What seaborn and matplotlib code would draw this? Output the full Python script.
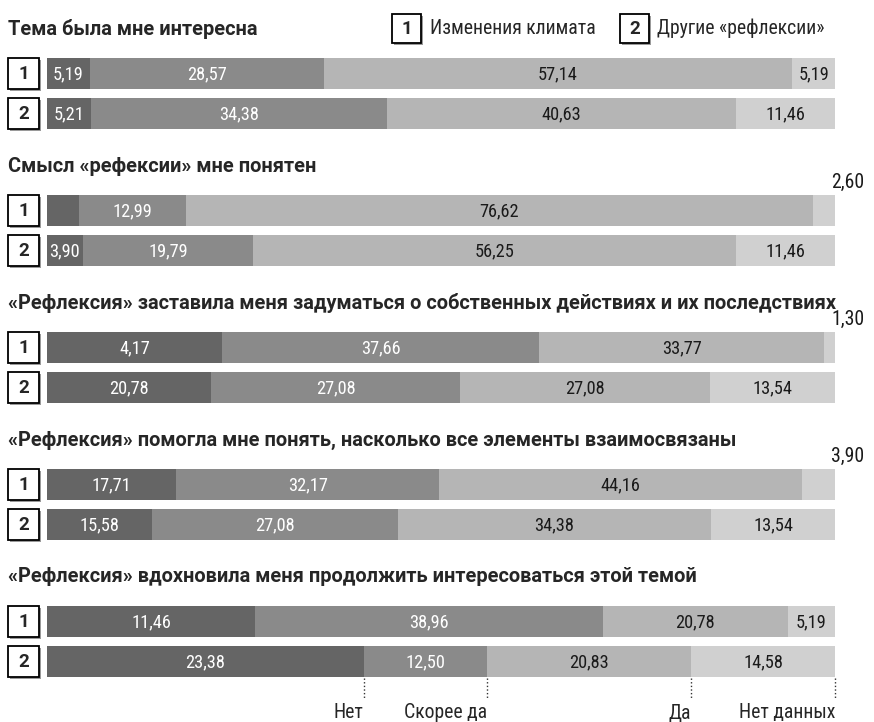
import numpy as np
import pandas as pd
import matplotlib
matplotlib.use("Agg")
import matplotlib.pyplot as plt
import seaborn as sns
from matplotlib.patches import Rectangle

sns.set_style("white")
plt.rcParams['font.family'] = ['Roboto Condensed', 'Liberation Sans Narrow', 'Liberation Sans', 'DejaVu Sans']
TITLE_FONT = ['Roboto', 'Liberation Sans', 'DejaVu Sans']

# === DATA ===
titles = [
    "Тема была мне интересна",
    "Смысл «рефексии» мне понятен",
    "«Рефлексия» заставила меня задуматься о собственных действиях и их последствиях",
    "«Рефлексия» помогла мне понять, насколько все элементы взаимосвязаны",
    "«Рефлексия» вдохновила меня продолжить интересоваться этой темой",
]
rows = ["1", "2"]
legend_names = ["Изменения климата", "Другие «рефлексии»"]
answers = ["Нет", "Скорее да", "Да", "Нет данных"]

# bar segment lengths as drawn (share of the full bar, %)
q1_len = [[5.43, 29.69, 59.44, 5.43], [5.63, 37.58, 44.24, 12.55]]
q2_len = [[4.01, 13.58, 79.62, 2.78], [4.53, 21.67, 61.25, 12.55]]
q3_len = [[22.19, 40.30, 36.09, 1.42], [20.76, 31.69, 31.69, 15.85]]
q4_len = [[16.36, 33.44, 45.99, 4.20], [13.32, 31.18, 39.78, 15.72]]
q5_len = [[26.46, 44.11, 23.42, 6.02], [40.17, 15.72, 25.87, 18.24]]

# values printed on the segments (None = no label)
q1_val = [[5.19, 28.57, 57.14, 5.19], [5.21, 34.38, 40.63, 11.46]]
q2_val = [[None, 12.99, 76.62, 2.60], [3.90, 19.79, 56.25, 11.46]]
q3_val = [[4.17, 37.66, 33.77, 1.30], [20.78, 27.08, 27.08, 13.54]]
q4_val = [[17.71, 32.17, 44.16, 3.90], [15.58, 27.08, 34.38, 13.54]]
q5_val = [[11.46, 38.96, 20.78, 5.19], [23.38, 12.50, 20.83, 14.58]]

lengths = [q1_len, q2_len, q3_len, q4_len, q5_len]
values = [q1_val, q2_val, q3_val, q4_val, q5_val]

colors = ["#656565", "#8a8a8a", "#b5b5b5", "#d0d0d0"]
text_colors = ["white", "white", "#1a1a1a", "#1a1a1a"]

# === LAYOUT (pixels) ===
W, H = 874, 722
X0, X1 = 47, 835
ROW_STEP, BAR_H = 40, 31
FS = 13.2       # bar labels
TFS = 14.4      # titles
LFS = 14.2      # legend / answers

fig = plt.figure(figsize=(W / 100, H / 100), dpi=100)
deco = fig.add_axes([0, 0, 1, 1])
deco.set_xlim(0, W)
deco.set_ylim(H, 0)
deco.axis('off')


def num_box(x, y, w, h, txt):
    deco.add_patch(Rectangle((x + 1.5, y + 1.5), w, h, facecolor="#9a9a9a", edgecolor="none", zorder=1))
    deco.add_patch(Rectangle((x, y), w, h, facecolor="white", edgecolor="black", lw=1.3, zorder=2))
    deco.text(x + w / 2, y + h / 2 + 0.5, txt, ha='center', va='center', fontsize=13.5,
              fontweight='bold', family=TITLE_FONT, zorder=3)


# legend
num_box(392, 14, 29, 29, "1")
deco.text(430, 28.5, legend_names[0], ha='left', va='center', fontsize=LFS)
num_box(620, 14, 29, 29, "2")
deco.text(657, 28.5, legend_names[1], ha='left', va='center', fontsize=LFS)

for i in range(5):
    top = 58 + 137 * i                      # top of first bar
    ax_top = top + BAR_H / 2 - ROW_STEP / 2
    ax = fig.add_axes([X0 / W, 1 - (ax_top + 2 * ROW_STEP) / H, (X1 - X0) / W, 2 * ROW_STEP / H])

    seg = np.array(lengths[i], dtype=float)
    cum = np.cumsum(seg, axis=1) / seg.sum(axis=1, keepdims=True) * 100

    # stacked bars: draw cumulative totals from the longest to the shortest
    for k in range(3, -1, -1):
        df = pd.DataFrame({"row": rows, "x": cum[:, k]})
        sns.barplot(data=df, x="x", y="row", orient="h", color=colors[k], saturation=1,
                    width=BAR_H / ROW_STEP, linewidth=0, errorbar=None, ax=ax)
    ax.set_xlim(0, 100)
    ax.set_ylim(1.5, -0.5)
    ax.axis('off')

    # segment labels
    for r in range(2):
        for k in range(4):
            v = values[i][r][k]
            if v is None:
                continue
            txt = f"{v:.2f}".replace(".", ",")
            start = cum[r, k - 1] if k > 0 else 0
            share = cum[r, k] - start
            if k == 3 and share < 5:
                ax.text(101.6, r - 0.69, txt, ha='center', va='center', fontsize=LFS,
                        color="#1a1a1a", clip_on=False)
            else:
                ax.text((start + cum[r, k]) / 2, r + 0.02, txt, ha='center', va='center',
                        fontsize=FS, color=text_colors[k])

    # title and row boxes
    deco.text(8, top - 29, titles[i], ha='left', va='center', fontsize=TFS, fontweight='bold',
              family=TITLE_FONT)
    for r in range(2):
        num_box(8, top + r * ROW_STEP, 31, BAR_H, rows[r])

    # answer markers under the last panel
    if i == 4:
        for k in range(4):
            xb = cum[1, k]
            ax.plot([xb, xb], [1.42, 1.92], ls=(0, (1, 1.6)), color="#333333", lw=1,
                    clip_on=False)
            ax.text(xb, 2.28, answers[k], ha='right', va='center', fontsize=LFS, clip_on=False)

plt.savefig("out.png", dpi=100)
